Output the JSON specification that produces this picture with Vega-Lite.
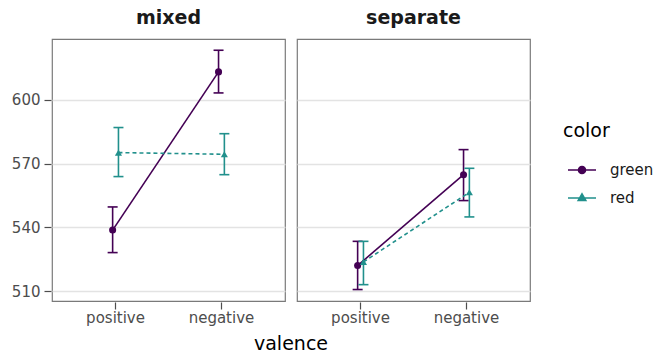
{
  "$schema": "https://vega.github.io/schema/vega-lite/v6.json",
  "padding": {"left": 11, "top": 9, "right": 5, "bottom": 5},
  "data": {"values": [
    {"cond": "mixed", "valence": "positive", "color": "green", "mean": 538.7, "lo": 528.1, "hi": 549.6},
    {"cond": "mixed", "valence": "negative", "color": "green", "mean": 613.2, "lo": 603.3, "hi": 623.4},
    {"cond": "mixed", "valence": "positive", "color": "red", "mean": 575.2, "lo": 563.9, "hi": 587.0},
    {"cond": "mixed", "valence": "negative", "color": "red", "mean": 574.4, "lo": 564.8, "hi": 584.1},
    {"cond": "separate", "valence": "positive", "color": "green", "mean": 522.0, "lo": 510.7, "hi": 533.4},
    {"cond": "separate", "valence": "negative", "color": "green", "mean": 564.8, "lo": 552.6, "hi": 576.6},
    {"cond": "separate", "valence": "positive", "color": "red", "mean": 523.7, "lo": 513.0, "hi": 533.4},
    {"cond": "separate", "valence": "negative", "color": "red", "mean": 556.5, "lo": 544.9, "hi": 567.8}
  ]},
  "facet": {
    "column": {
      "field": "cond", "type": "nominal", "sort": ["mixed", "separate"],
      "header": {
        "title": "valence", "titleOrient": "bottom", "labelOrient": "top",
        "labelFont": "DejaVu Sans", "labelFontSize": 19, "labelFontWeight": "bold", "labelColor": "#1a1a1a",
        "labelPadding": 10,
        "titleFont": "DejaVu Sans", "titleFontSize": 19, "titleFontWeight": "normal", "titleColor": "#000000",
        "titlePadding": 0
      }
    }
  },
  "spacing": 10,
  "spec": {
    "width": 233,
    "height": 262,
    "encoding": {
      "x": {
        "field": "valence", "type": "nominal", "sort": ["positive", "negative"],
        "scale": {"type": "band", "paddingInner": 0.89, "paddingOuter": 0.545},
        "axis": {"title": null, "labelAngle": 0}
      },
      "xOffset": {"field": "color", "type": "nominal", "sort": ["green", "red"]},
      "color": {
        "field": "color", "type": "nominal",
        "scale": {"domain": ["green", "red"], "range": ["#440154", "#21908C"]},
        "legend": {
          "title": "color",
          "orient": "none", "legendX": 511, "legendY": 83,
          "encode": {
            "symbols": {
              "update": {
                "shape": {"signal": "datum.value === 'green' ? 'M-1,0H1M-0.25,0A0.25,0.25 0 1,0 0.25,0A0.25,0.25 0 1,0 -0.25,0Z' : 'M-1,0H1M0,-0.3L0.27,0.17L-0.27,0.17Z'"},
                "fill": {"scale": "color", "field": "value"},
                "stroke": {"scale": "color", "field": "value"},
                "strokeWidth": {"value": 1.6},
                "opacity": {"value": 1}
              }
            }
          }
        }
      }
    },
    "layer": [
      {
        "mark": {"type": "rule", "strokeWidth": 1.6},
        "encoding": {
          "y": {"field": "lo", "type": "quantitative"},
          "y2": {"field": "hi"}
        }
      },
      {
        "mark": {"type": "tick", "orient": "horizontal", "size": 10, "thickness": 1.6, "opacity": 1},
        "encoding": {"y": {"field": "lo", "type": "quantitative"}}
      },
      {
        "mark": {"type": "tick", "orient": "horizontal", "size": 10, "thickness": 1.6, "opacity": 1},
        "encoding": {"y": {"field": "hi", "type": "quantitative"}}
      },
      {
        "transform": [{"filter": "datum.color === 'green'"}],
        "mark": {"type": "line", "strokeWidth": 1.6},
        "encoding": {"y": {"field": "mean", "type": "quantitative"}}
      },
      {
        "transform": [{"filter": "datum.color === 'red'"}],
        "mark": {"type": "line", "strokeWidth": 1.6, "strokeDash": [4, 3]},
        "encoding": {"y": {"field": "mean", "type": "quantitative"}}
      },
      {
        "transform": [{"filter": "datum.color === 'green'"}],
        "mark": {"type": "point", "filled": true, "opacity": 1, "size": 50, "shape": "circle"},
        "encoding": {"y": {"field": "mean", "type": "quantitative"}}
      },
      {
        "transform": [{"filter": "datum.color === 'red'"}],
        "mark": {"type": "point", "filled": true, "opacity": 1, "size": 50, "shape": "triangle-up"},
        "encoding": {
          "y": {
            "field": "mean", "type": "quantitative",
            "scale": {"domain": [505.3, 628.7], "nice": false, "zero": false},
            "axis": {
              "title": null,
              "values": [510, 525, 540, 555, 570, 585, 600, 615],
              "labelExpr": "datum.value % 30 === 0 ? datum.label : ''",
              "tickOpacity": {"condition": {"test": "datum.value % 30 !== 0", "value": 0}, "value": 1},
              "gridWidth": {"condition": {"test": "datum.value % 30 !== 0", "value": 0.8}, "value": 1.3},
              "gridColor": {"condition": {"test": "datum.value % 30 !== 0", "value": "#EFEFEF"}, "value": "#E3E3E3"}
            }
          }
        }
      }
    ]
  },
  "resolve": {"scale": {"y": "shared", "x": "shared"}},
  "config": {
    "view": {"stroke": "#7a7a7a", "strokeWidth": 1.2},
    "axis": {
      "domain": false,
      "labelFont": "DejaVu Sans", "labelFontSize": 15, "labelColor": "#4D4D4D",
      "tickColor": "#4D4D4D", "tickSize": 7, "tickWidth": 1.2, "labelPadding": 4
    },
    "axisX": {"grid": false, "labelPadding": 1},
    "axisY": {"grid": true},
    "legend": {
      "titleFont": "DejaVu Sans", "titleFontSize": 19, "titleFontWeight": "normal", "titleColor": "#000000",
      "labelFont": "DejaVu Sans", "labelFontSize": 15, "labelColor": "#1a1a1a",
      "rowPadding": 5, "symbolSize": 784, "titlePadding": 14, "labelOffset": 13, "symbolOffset": 4, "padding": 0
    }
  }
}
